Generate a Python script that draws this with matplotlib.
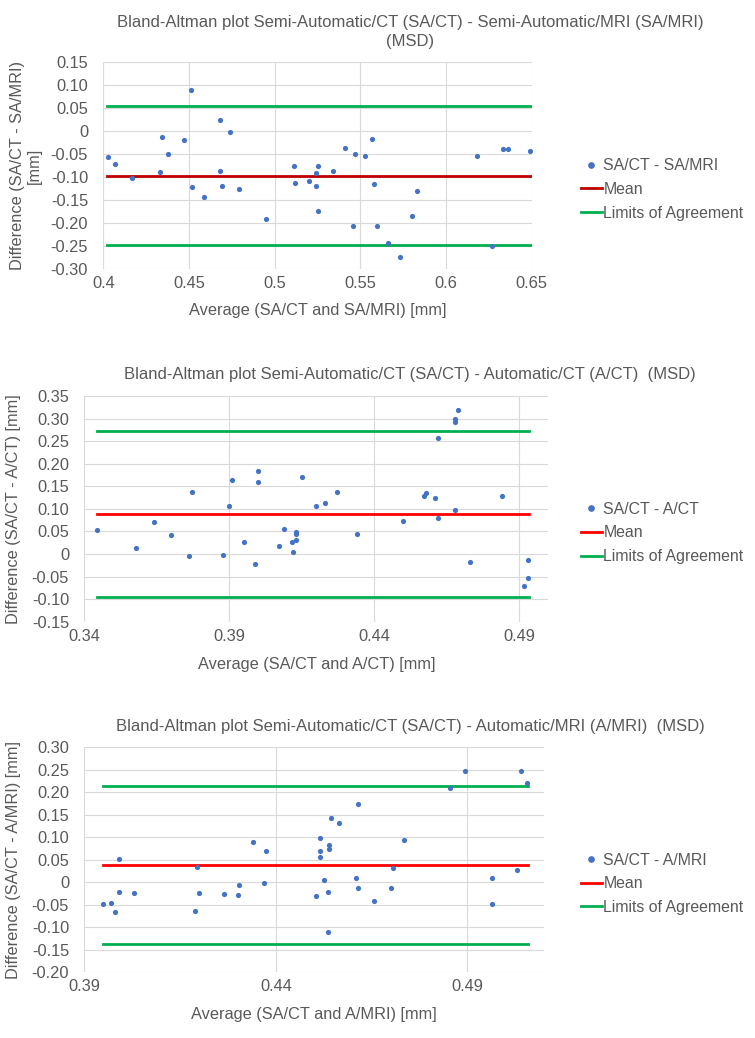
import matplotlib
matplotlib.use("Agg")
import matplotlib.pyplot as plt
from matplotlib.lines import Line2D

plt.rcParams['font.family'] = ['Liberation Sans', 'DejaVu Sans']

W, H = 755, 1038

# Panel 1: SA/CT - SA/MRI
x1 = [0.403, 0.407, 0.417, 0.433, 0.434, 0.438, 0.447, 0.451, 0.452, 0.459,
      0.468, 0.468, 0.469, 0.474, 0.479, 0.495, 0.511, 0.512, 0.520, 0.524,
      0.525, 0.524, 0.525, 0.534, 0.541, 0.547, 0.546, 0.553, 0.557, 0.558,
      0.560, 0.566, 0.573, 0.580, 0.583, 0.618, 0.627, 0.633, 0.636, 0.649]
y1 = [-0.057, -0.072, -0.103, -0.090, -0.013, -0.049, -0.020, 0.089, -0.121, -0.143,
      0.024, -0.086, -0.119, -0.002, -0.125, -0.192, -0.076, -0.114, -0.108, -0.091,
      -0.075, -0.119, -0.174, -0.086, -0.036, -0.051, -0.206, -0.055, -0.017, -0.115,
      -0.206, -0.242, -0.273, -0.185, -0.131, -0.054, -0.250, -0.039, -0.039, -0.044]
mean1 = -0.097
loa1 = [0.055, -0.247]
span1 = [0.402, 0.650]

# Panel 2: SA/CT - A/CT
x2 = [0.3445, 0.358, 0.364, 0.370, 0.376, 0.377, 0.388, 0.390, 0.391, 0.395,
      0.399, 0.400, 0.400, 0.407, 0.409, 0.4115, 0.412, 0.413, 0.413, 0.413,
      0.415, 0.420, 0.423, 0.427, 0.434, 0.450, 0.457, 0.458, 0.461, 0.462,
      0.462, 0.468, 0.468, 0.469, 0.468, 0.473, 0.484, 0.493, 0.493, 0.4915]
y2 = [0.053, 0.013, 0.070, 0.041, -0.004, 0.137, -0.002, 0.106, 0.164, 0.027,
      -0.023, 0.159, 0.183, 0.018, 0.055, 0.026, 0.004, 0.049, 0.044, 0.030,
      0.171, 0.106, 0.113, 0.138, 0.044, 0.073, 0.129, 0.135, 0.125, 0.258,
      0.080, 0.298, 0.292, 0.318, 0.098, -0.018, 0.129, -0.013, -0.054, -0.072]
mean2 = 0.088
loa2 = [0.272, -0.096]
span2 = [0.3445, 0.4933]

# Panel 3: SA/CT - A/MRI
x3 = [0.395, 0.397, 0.398, 0.399, 0.399, 0.403, 0.419, 0.4195, 0.420, 0.4265,
      0.430, 0.4305, 0.434, 0.437, 0.4375, 0.4505, 0.4515, 0.4515, 0.4515, 0.4525,
      0.4535, 0.4535, 0.454, 0.454, 0.4545, 0.4565, 0.461, 0.4615, 0.4615, 0.4655,
      0.470, 0.4705, 0.4735, 0.4855, 0.4895, 0.4965, 0.4965, 0.503, 0.504, 0.5055]
y3 = [-0.049, -0.047, -0.067, -0.022, 0.051, -0.024, -0.064, 0.034, -0.023, -0.026,
      -0.029, -0.006, 0.089, -0.002, 0.070, -0.030, 0.098, 0.070, 0.056, 0.006,
      -0.022, -0.110, 0.084, 0.075, 0.142, 0.132, 0.010, -0.012, 0.174, -0.042,
      -0.013, 0.032, 0.094, 0.210, 0.247, 0.010, -0.048, 0.027, 0.247, 0.221]
mean3 = 0.039
loa3 = [0.215, -0.137]
span3 = [0.395, 0.5057]

BLUE = '#4472C4'
GREEN = '#00B050'
TXT = '#595959'
FS = 11.8       # ticks, axis labels
FS_LEG = 11.4
FS_TITLE = 12.0


def rect(l, r, t, b):
    return [l / W, 1 - b / H, (r - l) / W, (b - t) / H]


def draw_panel(fig, box, x, y, mean, loa, span, xlim, xticks, ylim, yticks,
               title, xlabel, ylabel, series, red, title_y, xlabel_y, ylabel_x):
    ax = fig.add_axes(rect(*box))
    ax.scatter(x, y, s=14, color=BLUE, zorder=3, linewidths=0)
    ax.plot(span, [mean, mean], color=red, lw=2.0, zorder=2)
    ax.plot(span, [loa[0], loa[0]], color=GREEN, lw=2.0, zorder=2)
    ax.plot(span, [loa[1], loa[1]], color=GREEN, lw=2.0, zorder=2)
    ax.set_xlim(*xlim)
    ax.set_ylim(*ylim)
    ax.set_xticks(xticks)
    ax.set_xticklabels([f'{v:g}' for v in xticks])
    ax.set_yticks(yticks)
    ax.set_yticklabels(['0' if abs(v) < 1e-9 else f'{v:.2f}' for v in yticks])
    ax.grid(True, color='#D9D9D9', lw=0.8)
    ax.set_axisbelow(True)
    for s in ax.spines.values():
        s.set_visible(False)
    ax.tick_params(length=0, labelsize=FS, colors=TXT, pad=5)
    ax.tick_params(axis='y', pad=11)

    l, r, t, b = box
    fig.text(410 / W, 1 - title_y / H, title, ha='center', va='center',
             fontsize=FS_TITLE, color=TXT, linespacing=1.35)
    fig.text((l + r) / 2 / W, 1 - xlabel_y / H, xlabel, ha='center',
             va='center', fontsize=FS, color=TXT)
    fig.text(ylabel_x / W, 1 - (t + b) / 2 / H, ylabel, ha='center',
             va='center', rotation=90, fontsize=FS, color=TXT, linespacing=1.1)

    handles = [Line2D([], [], ls='none', marker='o', ms=3.8, color=BLUE),
               Line2D([], [], color=red, lw=2.0),
               Line2D([], [], color=GREEN, lw=2.0)]
    fig.legend(handles, [series, 'Mean', 'Limits of Agreement'],
               loc='center left', bbox_to_anchor=(573 / W, 1 - ((t + b) / 2 + 24) / H),
               frameon=False, fontsize=FS_LEG, labelcolor=TXT, borderpad=0,
               handlelength=1.3, handletextpad=0.12, labelspacing=0.55)
    return ax


fig = plt.figure(figsize=(W / 100, H / 100), dpi=100)

draw_panel(fig, (103.3, 531.7, 61.7, 269.3), x1, y1, mean1, loa1, span1,
           (0.4, 0.65), [0.4, 0.45, 0.5, 0.55, 0.6, 0.65],
           (-0.30, 0.15), [-0.30, -0.25, -0.20, -0.15, -0.10, -0.05, 0, 0.05, 0.10, 0.15],
           'Bland-Altman plot Semi-Automatic/CT (SA/CT) - Semi-Automatic/MRI (SA/MRI)\n(MSD)',
           'Average (SA/CT and SA/MRI) [mm]',
           'Difference (SA/CT - SA/MRI)\n[mm]',
           'SA/CT - SA/MRI', '#C00000', 32, 310, 26)

draw_panel(fig, (84.3, 548.3, 396, 621.7), x2, y2, mean2, loa2, span2,
           (0.34, 0.50), [0.34, 0.39, 0.44, 0.49],
           (-0.15, 0.35), [-0.15, -0.10, -0.05, 0, 0.05, 0.10, 0.15, 0.20, 0.25, 0.30, 0.35],
           'Bland-Altman plot Semi-Automatic/CT (SA/CT) - Automatic/CT (A/CT)  (MSD)',
           'Average (SA/CT and A/CT) [mm]',
           'Difference (SA/CT - A/CT) [mm]',
           'SA/CT - A/CT', '#FF0000', 374, 665, 14)

draw_panel(fig, (84.3, 544, 747.3, 972.3), x3, y3, mean3, loa3, span3,
           (0.39, 0.51), [0.39, 0.44, 0.49],
           (-0.20, 0.30), [-0.20, -0.15, -0.10, -0.05, 0, 0.05, 0.10, 0.15, 0.20, 0.25, 0.30],
           'Bland-Altman plot Semi-Automatic/CT (SA/CT) - Automatic/MRI (A/MRI)  (MSD)',
           'Average (SA/CT and A/MRI) [mm]',
           'Difference (SA/CT - A/MRI) [mm]',
           'SA/CT - A/MRI', '#FF0000', 727, 1015, 14)

fig.savefig('out.png', dpi=100)
